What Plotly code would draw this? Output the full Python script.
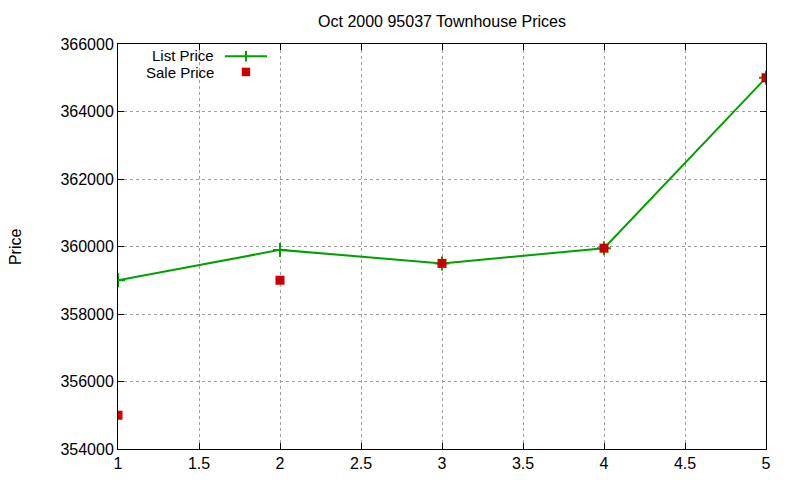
import plotly.graph_objects as go

#data
x_vals = [1, 2, 3, 4, 5]
list_price = [359000, 359900, 359500, 359950, 365000]
sale_price = [355000, 359000, 359500, 359950, 365000]
y_ticks = [354000, 356000, 358000, 360000, 362000, 364000, 366000]
x_ticks = [1, 1.5, 2, 2.5, 3, 3.5, 4, 4.5, 5]

green = "#00a000"
red = "#cc0000"
fnt = "Liberation Sans, Arial, sans-serif"

fig = go.Figure()

#list price line with + markers
fig.add_trace(go.Scatter(x=x_vals, y=list_price, mode="lines+markers", name="List Price",
                         line=dict(color=green, width=2),
                         marker=dict(symbol="cross-thin", size=10, line=dict(color=green, width=2))))

#sale price squares
fig.add_trace(go.Scatter(x=x_vals, y=sale_price, mode="markers", name="Sale Price",
                         marker=dict(symbol="square", size=9, color=red)))

grid = dict(showgrid=True, gridcolor="#a0a0a0", griddash="dot", gridwidth=1,
            showline=True, linecolor="black", linewidth=1, mirror="allticks",
            ticks="inside", ticklen=6, tickcolor="black", zeroline=False,
            tickfont=dict(size=16, color="black"))

#note: page body has an 8px margin, margins are shifted to make up for it
fig.update_layout(
    width=800, height=480,
    paper_bgcolor="white", plot_bgcolor="white",
    margin=dict(l=110, r=42, t=36, b=39),
    font=dict(family=fnt, color="black"),
    showlegend=False,
    title=dict(text="Oct 2000 95037 Townhouse Prices", x=434/800, xanchor="center",
               y=1 - 13/480, yanchor="middle", font=dict(size=16)),
    xaxis=dict(range=[1, 5], tickvals=x_ticks, ticktext=[str(v) for v in x_ticks], **grid),
    yaxis=dict(range=[354000, 366000], tickvals=y_ticks, tickformat="d", **grid),
)

#y label
fig.add_annotation(text="Price", xref="paper", yref="paper", x=-0.158, y=0.5,
                   xanchor="center", yanchor="middle",
                   textangle=-90, showarrow=False, font=dict(size=16))

#gnuplot style key: text on the left, sample on the right
fig.add_annotation(text="List Price", xref="paper", yref="paper", x=0.151, y=0.971,
                   xanchor="right", yanchor="middle", showarrow=False, font=dict(size=15))
fig.add_annotation(text="Sale Price", xref="paper", yref="paper", x=0.151, y=0.930,
                   xanchor="right", yanchor="middle", showarrow=False, font=dict(size=15))
fig.add_shape(type="line", xref="paper", yref="paper", x0=0.165, x1=0.230, y0=0.970, y1=0.970,
              line=dict(color=green, width=2))
fig.add_shape(type="line", xref="paper", yref="paper", x0=0.1975, x1=0.1975, y0=0.957, y1=0.983,
              line=dict(color=green, width=2))
fig.add_shape(type="rect", xref="paper", yref="paper", x0=0.1975 - 0.0065, x1=0.1975 + 0.0065,
              y0=0.931 - 0.0105, y1=0.931 + 0.0105, fillcolor=red, line=dict(width=0))

fig.write_html("out.html")
